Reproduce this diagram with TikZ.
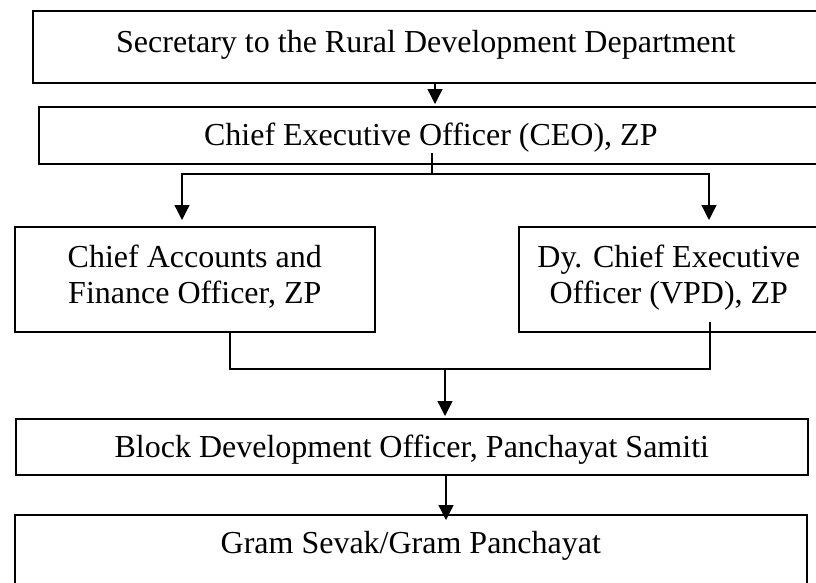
\documentclass[tikz,border=0pt]{standalone}
\usepackage{fontspec}
\setmainfont{Liberation Serif}
\usetikzlibrary{arrows.meta}
\begin{document}
\begin{tikzpicture}[x=1pt,y=-1pt,
  box/.style={draw, line width=1.6pt, inner sep=0pt, anchor=north west, align=center,
    text height=22pt, font=\fontsize{32}{36}\selectfont},
  conn/.style={line width=1.3pt},
  arr/.style={conn, -{Triangle[length=15pt,width=15pt]}}]
\path[use as bounding box, fill=white] (0,0) rectangle (816,582);
\clip (0,0) rectangle (816,582);

\node[box, minimum width=786pt, minimum height=72pt, text depth=10pt] (sec) at (32,10)
  {Secretary to the Rural Development Department};
\node[box, minimum width=784pt, minimum height=57pt, text depth=1pt] (ceo) at (38,106)
  {Chief Executive Officer (CEO), ZP};
\node[box, minimum width=360pt, minimum height=105pt, text height=58pt, text depth=9pt] (cafo) at (14,226)
  {Chief Accounts and\\Finance Officer, ZP};
\node[box, minimum width=300pt, minimum height=105pt, text height=58pt, text depth=9pt] (dyceo) at (518,226)
  {Dy. Chief Executive\\Officer (VPD), ZP};
\node[box, minimum width=792pt, minimum height=56pt, text depth=0pt] (bdo) at (15,418)
  {Block Development Officer, Panchayat Samiti};
\node[box, minimum width=792pt, minimum height=80pt, text depth=24pt] (gram) at (14,514)
  {Gram Sevak/Gram Panchayat};

% Secretary -> CEO
\coordinate (a1) at (435,0);
\draw[arr] (sec.south -| a1) -- ([yshift=2pt]ceo.north -| a1);

% CEO -> two officers
\coordinate (t1) at (432,153);
\coordinate (j1) at (432,174);
\coordinate (dl) at (182,0);
\coordinate (dr) at (709,0);
\draw[conn] (t1) -- (j1);
\draw[arr] (j1) -| ([yshift=6pt]cafo.north -| dl);
\draw[arr] (j1) -| ([yshift=6pt]dyceo.north -| dr);

% two officers -> BDO
\coordinate (bl) at (230,0);
\coordinate (br) at (710,322);
\coordinate (j2) at (445,369);
\draw[conn] (cafo.south -| bl) |- (j2) -| (br);
\draw[arr] (j2) -- ([yshift=2pt]bdo.north -| j2);

% BDO -> Gram
\coordinate (a4) at (446,0);
\draw[arr] (bdo.south -| a4) -- ([yshift=-6pt]gram.north -| a4);
\end{tikzpicture}
\end{document}
